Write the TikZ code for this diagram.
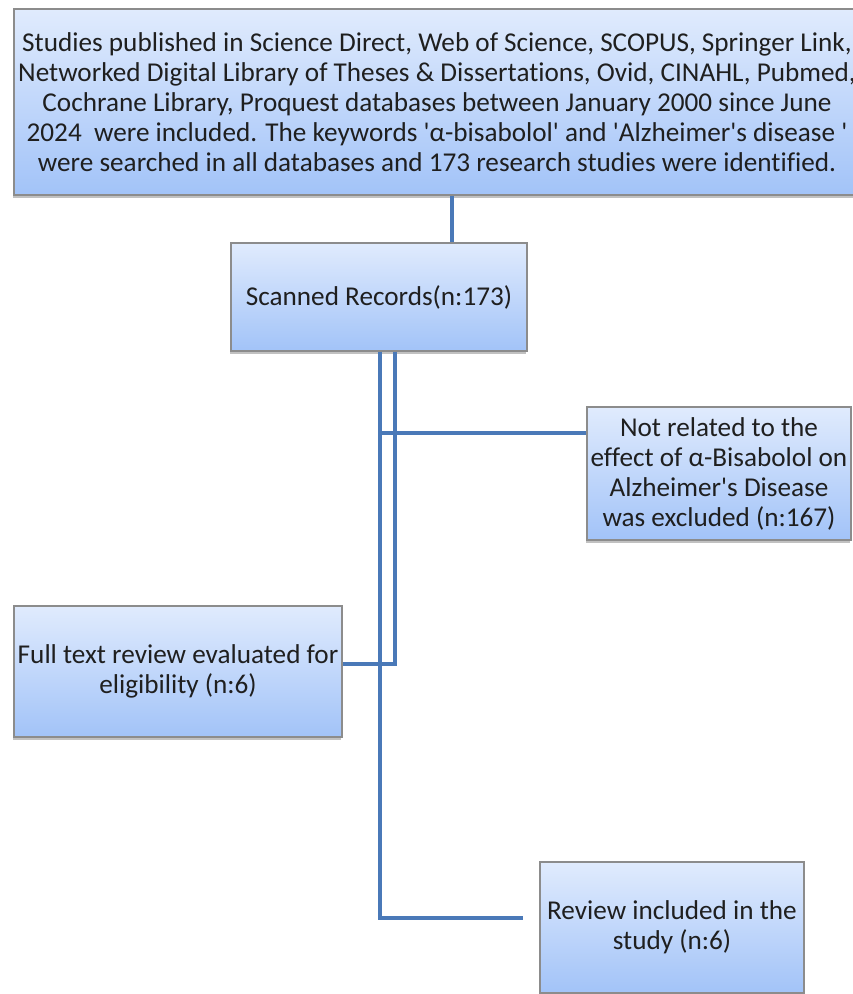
\documentclass[tikz,border=0pt]{standalone}
\usepackage{fontspec}
\setmainfont{Carlito}[Ligatures={NoCommon}]
\usetikzlibrary{shadows,calc}

\definecolor{boxtop}{RGB}{224,235,253}
\definecolor{boxbottom}{RGB}{162,195,248}
\definecolor{boxline}{RGB}{140,140,140}
\definecolor{linkblue}{RGB}{74,121,184}

\tikzset{
	box/.style={draw=boxline, line width=0.8pt, top color=boxtop, bottom color=boxbottom,
		drop shadow={shadow xshift=-1pt, shadow yshift=-2.5pt, opacity=0.35, fill=black!70},
		align=center, inner sep=2pt, text=black!88, font=\fontsize{20.4}{22.5}\selectfont},
	box size/.style 2 args={minimum width=#1*0.75pt, minimum height=#2*0.75pt},
	link/.style={draw=linkblue, line width=3pt}
}
\tikzset{every picture/.style={line width=0.75pt}}
\newcommand{\sq}{\textquotesingle}

\begin{document}
\begin{tikzpicture}[x=0.75pt,y=0.75pt,yscale=-1,xscale=1]
	\useasboundingbox (0,0) rectangle (852,994);

	% Boxes
	\node [box, box size={846}{186}] (search) at (437,102) {Studies published in Science Direct, Web of Science, SCOPUS, Springer Link,\\ Networked Digital Library of Theses \& Dissertations, Ovid, CINAHL, Pubmed,\\ Cochrane Library, Proquest databases between January 2000 since June\\ 2024\ \ were included. The keywords \sq α-bisabolol\sq{} and \sq Alzheimer\sq s disease \sq\\ were searched in all databases and 173 research studies were identified.};
	\node [box, box size={296}{108}] (scanned) at (379,297) {Scanned Records(n:173)};
	\node [box, box size={264}{133}] (excluded) at (719,473.5) {Not related to the\\ effect of α-Bisabolol on\\ Alzheimer\sq s Disease\\ was excluded (n:167)};
	\node [box, box size={328}{131}] (fulltext) at (178,671.5) {Full text review evaluated for\\ eligibility (n:6)};
	\node [box, box size={264}{131}] (included) at (672,927.5) {Review included in the\\ study (n:6)};

	% Bend points
	\coordinate (trunkA) at (380,918);
	\coordinate (trunkB) at (395,664);
	\coordinate (branch) at (380,433);
	\coordinate (stub) at (523,918);

	% Connectors
	\draw [link] (search.south -| 452,0) -- (scanned.north -| 452,0);
	\draw [link] (scanned.south -| trunkA) -- (trunkA) -- (stub);
	\draw [link] (scanned.south -| trunkB) -- (trunkB) -- (trunkB -| fulltext.east);
	\draw [link] (branch) -- (branch -| excluded.west);
\end{tikzpicture}
\end{document}
